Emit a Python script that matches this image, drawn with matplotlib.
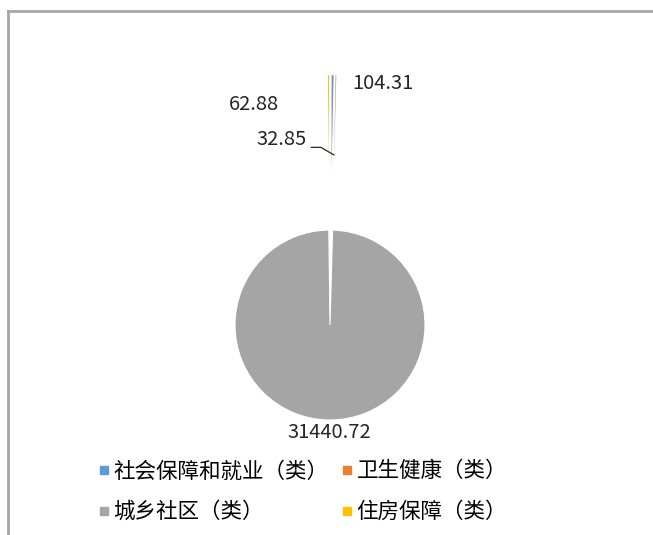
import numpy as np
import matplotlib
matplotlib.use("Agg")
import matplotlib.pyplot as plt
from matplotlib.lines import Line2D

plt.rcParams['font.family'] = ['Noto Sans CJK SC', 'DejaVu Sans']

# data
categories = ['社会保障和就业（类）', '卫生健康（类）', '城乡社区（类）', '住房保障（类）']
values = [104.31, 32.85, 31440.72, 62.88]
colors = ['#5B9BD5', '#ED7D31', '#A5A5A5', '#FFC000']
explode = [1.63, 1.63, 0.0, 1.63]

W, H = 653, 535
cx, cy, R = 330, 325, 95   # pie centre / radius in pixels

fig = plt.figure(figsize=(W / 100, H / 100), dpi=100)
ax = fig.add_axes([0, 0, 1, 1])

wedges, _ = ax.pie(values, colors=colors, explode=explode, startangle=90,
                   counterclock=False, radius=1.0)
for i, w in enumerate(wedges):
    if explode[i] == 0:
        w.set_edgecolor('white')
        w.set_linewidth(0.8)
    else:
        w.set_linewidth(0)
ax.set_xlim(-cx / R, (W - cx) / R)
ax.set_ylim(-(H - cy) / R, cy / R)
ax.set_aspect('auto')
ax.axis('off')

# labels
lab_kw = dict(fontsize=14.5, color='#262626', textcoords='offset pixels')
def mid(w):
    return np.deg2rad((w.theta1 + w.theta2) / 2)

for i, w in enumerate(wedges):
    a = mid(w)
    c = np.array(w.center)
    txt = '%.2f' % values[i]
    if i == 2:
        p = c + 1.13 * np.array([np.cos(a), np.sin(a)])
        ax.annotate(txt, xy=p, xytext=(0, 0), ha='center', va='center', **lab_kw)
    elif i == 0:
        p = c + np.array([np.cos(a), np.sin(a)])
        ax.annotate(txt, xy=p, xytext=(50, -8), ha='center', va='center', **lab_kw)
    elif i == 3:
        p = c + np.array([np.cos(a), np.sin(a)])
        ax.annotate(txt, xy=p, xytext=(-75, -29), ha='center', va='center', **lab_kw)
    else:
        p = c + 0.16 * np.array([np.cos(a), np.sin(a)])
        ax.annotate(txt, xy=p, xytext=(-27, 15), ha='right', va='center',
                    arrowprops=dict(arrowstyle='-', color='#262626', lw=0.9,
                                    shrinkA=1, shrinkB=0, relpos=(1, 0.15),
                                    connectionstyle='angle,angleA=0,angleB=150'),
                    **lab_kw)

# legend, filled row by row like the original
order = [0, 2, 1, 3]
handles = [Line2D([], [], marker='s', linestyle='none', markersize=6,
                  markerfacecolor=colors[k], markeredgecolor=colors[k]) for k in order]
fig.legend(handles, [categories[k] for k in order], loc='upper left', ncol=2,
           bbox_to_anchor=(78 / W, 1 - 441 / H), frameon=False,
           fontsize=15.5, handlelength=0.6, handletextpad=0.15,
           columnspacing=0.55, labelspacing=0.87)

# outer frame (top and left edges only visible)
fig.add_artist(Line2D([8 / W, 1], [1 - 11 / H, 1 - 11 / H], color='#a6a6a6', lw=2))
fig.add_artist(Line2D([8 / W, 8 / W], [0, 1 - 11 / H], color='#a6a6a6', lw=2))

fig.savefig('out.png', dpi=100, facecolor='white')
